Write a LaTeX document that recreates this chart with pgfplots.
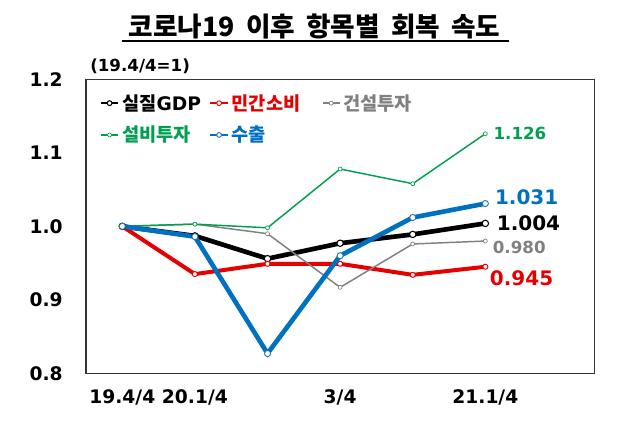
\documentclass[border=0pt]{standalone}
\usepackage{fontspec}
\setmainfont{DejaVu Sans}
\newfontfamily\kr{Noto Sans CJK KR}
\usepackage{pgfplots}
\pgfplotsset{compat=1.18}
\definecolor{cgdp}{RGB}{0,0,0}
\definecolor{cred}{RGB}{230,0,0}
\definecolor{cgray}{RGB}{128,128,128}
\definecolor{cgreen}{RGB}{0,160,80}
\definecolor{cblue}{RGB}{0,112,192}
\pgfplotsset{
  thickleg/.style={legend image code/.code={\draw[mark repeat=2,mark phase=2,##1,line width=2pt,mark size=1.8pt] plot coordinates {(0pt,0pt)(6.5pt,0pt)(13pt,0pt)};}},
  thinleg/.style={legend image code/.code={\draw[mark repeat=2,mark phase=2,##1] plot coordinates {(0pt,0pt)(6.5pt,0pt)(13pt,0pt)};}},
}
\begin{document}
\begin{tikzpicture}
\useasboundingbox (0,0) rectangle (480pt,322.5pt);
\node[font=\kr\bfseries\fontsize{20}{20}\selectfont, anchor=center, inner sep=0pt] at (236pt,302.3pt) {코로나19\hspace{0.42em}이후\hspace{0.42em}항목별\hspace{0.42em}회복\hspace{0.42em}속도};
\draw[line width=1.1pt] (91.5pt,291.75pt) -- (381.75pt,291.75pt);
\node[font=\bfseries\fontsize{12.5}{12.5}\selectfont, anchor=west, inner sep=0pt] at (67.5pt,273pt) {(19.4/4=1)};
\begin{axis}[
  at={(64.5pt,42.5pt)}, anchor=south west,
  scale only axis, width=381.2pt, height=220.5pt,
  xmin=-0.5, xmax=6.5, ymin=0.8, ymax=1.2,
  xtick={0,1,3,5}, xticklabels={19.4/4,20.1/4,3/4,21.1/4},
  ytick={0.8,0.9,1.0,1.1,1.2}, yticklabels={0.8,0.9,1.0,1.1,1.2},
  major tick length=0pt,
  axis line style={black!80, line width=0.8pt},
  ticklabel style={font=\bfseries\fontsize{14}{14}\selectfont},
  yticklabel style={xshift=-14pt},
  xticklabel style={yshift=-9pt},
  clip=false,
  legend columns=3,
  legend cell align=left,
  legend style={at={(rel axis cs:0,1)}, anchor=north west, xshift=10pt, yshift=-9pt,
    draw=none, fill=none, inner sep=0pt, row sep=6.5pt,
    font=\bfseries\fontsize{14}{14}\selectfont,
    /tikz/column 2/.style={column sep=4pt},
    /tikz/column 4/.style={column sep=14pt}},
]
\addplot[cgdp, line width=3.5pt, mark=*, mark size=2.4pt, mark options={fill=white, draw=cgdp, line width=0.8pt}, thickleg]
  coordinates {(0,1.000) (1,0.987) (2,0.956) (3,0.977) (4,0.989) (5,1.004)};
\addlegendentry{{\kr 실질}GDP}
\addplot[cred, line width=3pt, mark=*, mark size=1.9pt, mark options={fill=white, draw=cred, line width=0.7pt}, thickleg]
  coordinates {(0,1.000) (1,0.935) (2,0.949) (3,0.949) (4,0.934) (5,0.945)};
\addlegendentry{\textcolor{cred}{\kr 민간소비}}
\addplot[cgray, line width=1.1pt, mark=*, mark size=1.5pt, mark options={fill=white, draw=cgray, line width=0.5pt}, thinleg]
  coordinates {(0,1.000) (1,1.003) (2,0.990) (3,0.917) (4,0.976) (5,0.980)};
\addlegendentry{\textcolor{cgray}{\kr 건설투자}}
\addplot[cgreen, line width=1.1pt, mark=*, mark size=1.5pt, mark options={fill=white, draw=cgreen, line width=0.5pt}, thinleg]
  coordinates {(0,1.000) (1,1.003) (2,0.998) (3,1.078) (4,1.058) (5,1.126)};
\addlegendentry{\textcolor{cgreen}{\kr 설비투자}}
\addplot[cblue, line width=3.5pt, mark=*, mark size=2.3pt, mark options={fill=white, draw=cblue!70!gray, line width=0.7pt}, thickleg]
  coordinates {(0,1.000) (1,0.986) (2,0.827) (3,0.960) (4,1.012) (5,1.031)};
\addlegendentry{\textcolor{cblue}{\kr 수출}}
\node[anchor=west, inner sep=0pt, text=cgreen, font=\bfseries\fontsize{12.5}{12.5}\selectfont] at (axis cs:5.11,1.127) {1.126};
\node[anchor=west, inner sep=0pt, text=cblue, font=\bfseries\fontsize{15}{15}\selectfont] at (axis cs:5.13,1.040) {1.031};
\node[anchor=west, inner sep=0pt, text=cgdp, font=\bfseries\fontsize{15}{15}\selectfont] at (axis cs:5.155,1.004) {1.004};
\node[anchor=west, inner sep=0pt, text=cgray, font=\bfseries\fontsize{12.5}{12.5}\selectfont] at (axis cs:5.10,0.971) {0.980};
\node[anchor=west, inner sep=0pt, text=cred, font=\bfseries\fontsize{15}{15}\selectfont] at (axis cs:5.06,0.929) {0.945};
\end{axis}
\end{tikzpicture}
\end{document}
